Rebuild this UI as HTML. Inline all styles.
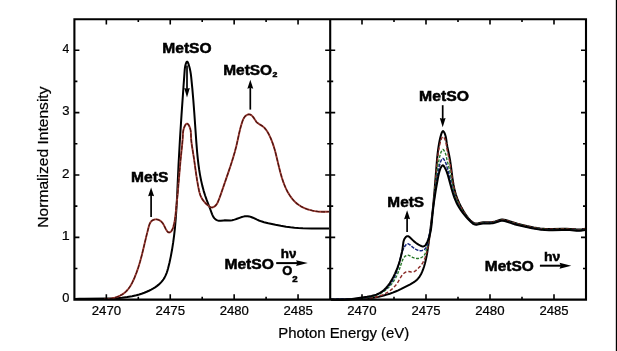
<!DOCTYPE html>
<html><head><meta charset="utf-8"><style>
html,body{margin:0;padding:0;background:#fff;}
svg{display:block;will-change:transform;}
text{font-family:"Liberation Sans",sans-serif;fill:#000;}
</style></head><body>
<svg width="617" height="351" viewBox="0 0 617 351">
<rect width="617" height="351" fill="#fff"/>
<rect x="615.8" y="0" width="1.2" height="351" fill="#000"/>
<path d="M75.00,299.07 L79.39,298.82 L84.30,298.66 L106.61,298.53 L112.05,298.39 L116.49,298.17 L121.89,297.74 L127.25,297.08 L132.07,296.24 L136.36,295.25 L139.20,294.47 L141.54,293.72 L144.33,292.72 L146.64,291.78 L148.93,290.75 L151.18,289.62 L153.38,288.39 L155.09,287.32 L157.13,285.88 L158.67,284.64 L160.13,283.33 L161.47,281.93 L162.70,280.44 L163.53,279.27 L164.53,277.63 L165.41,275.91 L166.71,272.76 L167.34,270.90 L168.04,268.51 L169.47,262.69 L170.82,256.37 L172.07,249.54 L173.15,242.71 L174.12,235.37 L174.93,228.03 L175.83,217.73 L176.60,205.93 L177.13,195.60 L178.52,165.00 L179.98,138.80 L181.50,115.13 L183.45,87.20 L184.69,70.19 L184.94,67.70 L185.33,65.54 L185.82,63.76 L186.44,62.24 L186.67,61.91 L186.90,61.70 L187.13,61.63 L187.36,61.73 L187.59,61.97 L188.04,62.79 L188.66,64.47 L189.33,66.71 L189.85,68.72 L190.34,71.08 L190.80,73.94 L191.17,76.83 L192.29,88.04 L193.37,100.76 L194.37,114.01 L196.33,142.15 L197.17,152.54 L197.75,158.45 L198.44,164.35 L199.18,169.73 L199.97,174.59 L201.09,180.37 L202.28,185.63 L203.67,190.84 L205.12,195.53 L206.75,200.16 L210.18,208.99 L212.14,214.30 L213.19,216.57 L213.69,217.40 L214.25,218.17 L215.24,219.17 L216.43,219.96 L217.33,220.36 L218.79,220.73 L219.78,220.81 L220.77,220.78 L223.72,220.41 L224.72,220.35 L230.24,220.40 L232.17,220.19 L234.50,219.63 L236.33,219.03 L240.96,217.33 L243.38,216.62 L244.85,216.32 L245.83,216.20 L246.80,216.15 L247.77,216.18 L249.20,216.41 L251.08,216.96 L252.93,217.72 L257.07,219.69 L258.92,220.48 L261.24,221.32 L264.05,222.18 L268.31,223.24 L275.48,224.81 L280.79,225.84 L286.14,226.74 L290.54,227.34 L294.47,227.76 L298.40,228.06 L302.83,228.28 L311.72,228.45 L329.00,228.42" fill="none" stroke="#000" stroke-width="2" stroke-linejoin="round"/>
<path d="M104.04,298.89 L106.33,298.93 L108.19,298.84 L110.55,298.58 L112.44,298.25 L114.77,297.68 L116.61,297.10 L118.40,296.41 L120.14,295.61 L121.80,294.70 L123.38,293.67 L124.87,292.52 L125.91,291.59 L127.20,290.25 L128.40,288.81 L129.51,287.29 L130.54,285.70 L132.39,282.35 L134.40,277.98 L136.50,272.67 L138.34,267.33 L139.98,261.95 L141.68,255.63 L143.14,249.70 L146.66,234.85 L148.86,226.31 L149.46,224.45 L150.01,223.15 L150.71,221.98 L151.27,221.29 L152.30,220.43 L153.11,219.98 L154.47,219.54 L155.44,219.40 L156.41,219.39 L157.86,219.65 L158.78,219.97 L160.07,220.64 L160.83,221.18 L161.51,221.78 L162.67,223.13 L163.85,225.08 L165.86,229.12 L166.66,230.54 L167.58,231.74 L168.27,232.27 L168.64,232.42 L169.02,232.47 L169.43,232.44 L169.83,232.31 L170.62,231.86 L170.98,231.55 L171.60,230.82 L172.34,229.50 L172.91,228.05 L173.38,226.58 L174.24,223.27 L174.91,219.60 L175.42,215.53 L176.79,202.49 L177.77,192.47 L180.46,160.93 L182.34,142.86 L182.64,139.15 L182.93,133.75 L183.09,131.92 L183.55,129.48 L184.03,127.90 L184.44,126.81 L184.93,125.75 L185.47,124.83 L186.05,124.11 L186.66,123.70 L186.96,123.64 L187.27,123.68 L187.58,123.82 L188.18,124.35 L188.75,125.16 L189.28,126.14 L189.94,127.78 L190.27,128.85 L190.62,130.38 L190.90,132.77 L191.03,136.84 L191.21,139.57 L191.49,142.33 L191.92,145.59 L194.02,158.80 L196.19,174.35 L197.11,180.42 L198.35,187.35 L199.02,190.55 L199.58,192.81 L200.28,195.03 L200.98,196.74 L201.85,198.40 L203.15,200.38 L204.66,202.25 L206.36,204.01 L208.24,205.65 L209.84,206.81 L210.69,207.22 L211.12,207.36 L211.99,207.46 L212.89,207.30 L213.34,207.14 L214.21,206.68 L215.39,205.75 L216.36,204.65 L217.38,203.02 L218.20,201.27 L219.43,198.14 L220.71,194.59 L228.34,172.35 L230.91,164.69 L233.06,157.89 L234.78,151.97 L236.22,146.49 L237.18,142.37 L239.28,132.73 L240.28,128.58 L241.29,124.90 L242.47,121.21 L243.18,119.40 L243.83,118.12 L244.63,116.93 L245.26,116.21 L246.39,115.26 L247.24,114.77 L248.13,114.44 L249.03,114.33 L249.92,114.47 L250.76,114.84 L251.57,115.40 L252.31,116.08 L253.00,116.85 L253.62,117.67 L256.02,121.34 L256.61,122.06 L257.27,122.71 L258.77,123.82 L262.04,125.82 L263.17,126.67 L264.21,127.62 L265.47,129.01 L266.60,130.51 L267.86,132.51 L268.99,134.60 L270.42,137.58 L271.69,140.61 L272.98,144.11 L274.12,147.66 L275.03,150.80 L275.98,154.42 L279.16,167.73 L280.45,172.80 L281.91,177.87 L283.46,182.45 L284.50,185.16 L285.44,187.39 L286.46,189.57 L287.55,191.71 L288.73,193.77 L289.99,195.76 L291.34,197.67 L292.50,199.13 L294.03,200.86 L295.67,202.47 L297.42,203.97 L298.90,205.06 L300.86,206.31 L302.93,207.41 L305.09,208.38 L307.32,209.22 L309.62,209.93 L312.44,210.63 L314.83,211.08 L317.71,211.47 L320.59,211.72 L323.45,211.82 L326.26,211.79 L328.99,211.63" fill="none" stroke="#9a3b33" stroke-width="1.9" stroke-linejoin="round"/>
<path d="M104.04,298.89 L106.33,298.93 L108.19,298.84 L110.55,298.58 L112.44,298.25 L114.77,297.68 L116.61,297.10 L118.40,296.41 L120.14,295.61 L121.80,294.70 L123.38,293.67 L124.87,292.52 L125.91,291.59 L127.20,290.25 L128.40,288.81 L129.51,287.29 L130.54,285.70 L132.39,282.35 L134.40,277.98 L136.50,272.67 L138.34,267.33 L139.98,261.95 L141.68,255.63 L143.14,249.70 L146.66,234.85 L148.86,226.31 L149.46,224.45 L150.01,223.15 L150.71,221.98 L151.27,221.29 L152.30,220.43 L153.11,219.98 L154.47,219.54 L155.44,219.40 L156.41,219.39 L157.86,219.65 L158.78,219.97 L160.07,220.64 L160.83,221.18 L161.51,221.78 L162.67,223.13 L163.85,225.08 L165.86,229.12 L166.66,230.54 L167.58,231.74 L168.27,232.27 L168.64,232.42 L169.02,232.47 L169.43,232.44 L169.83,232.31 L170.62,231.86 L170.98,231.55 L171.60,230.82 L172.34,229.50 L172.91,228.05 L173.38,226.58 L174.24,223.27 L174.91,219.60 L175.42,215.53 L176.79,202.49 L177.77,192.47 L180.46,160.93 L182.34,142.86 L182.64,139.15 L182.93,133.75 L183.09,131.92 L183.55,129.48 L184.03,127.90 L184.44,126.81 L184.93,125.75 L185.47,124.83 L186.05,124.11 L186.66,123.70 L186.96,123.64 L187.27,123.68 L187.58,123.82 L188.18,124.35 L188.75,125.16 L189.28,126.14 L189.94,127.78 L190.27,128.85 L190.62,130.38 L190.90,132.77 L191.03,136.84 L191.21,139.57 L191.49,142.33 L191.92,145.59 L194.02,158.80 L196.19,174.35 L197.11,180.42 L198.35,187.35 L199.02,190.55 L199.58,192.81 L200.28,195.03 L200.98,196.74 L201.85,198.40 L203.15,200.38 L204.66,202.25 L206.36,204.01 L208.24,205.65 L209.84,206.81 L210.69,207.22 L211.12,207.36 L211.99,207.46 L212.89,207.30 L213.34,207.14 L214.21,206.68 L215.39,205.75 L216.36,204.65 L217.38,203.02 L218.20,201.27 L219.43,198.14 L220.71,194.59 L228.34,172.35 L230.91,164.69 L233.06,157.89 L234.78,151.97 L236.22,146.49 L237.18,142.37 L239.28,132.73 L240.28,128.58 L241.29,124.90 L242.47,121.21 L243.18,119.40 L243.83,118.12 L244.63,116.93 L245.26,116.21 L246.39,115.26 L247.24,114.77 L248.13,114.44 L249.03,114.33 L249.92,114.47 L250.76,114.84 L251.57,115.40 L252.31,116.08 L253.00,116.85 L253.62,117.67 L256.02,121.34 L256.61,122.06 L257.27,122.71 L258.77,123.82 L262.04,125.82 L263.17,126.67 L264.21,127.62 L265.47,129.01 L266.60,130.51 L267.86,132.51 L268.99,134.60 L270.42,137.58 L271.69,140.61 L272.98,144.11 L274.12,147.66 L275.03,150.80 L275.98,154.42 L279.16,167.73 L280.45,172.80 L281.91,177.87 L283.46,182.45 L284.50,185.16 L285.44,187.39 L286.46,189.57 L287.55,191.71 L288.73,193.77 L289.99,195.76 L291.34,197.67 L292.50,199.13 L294.03,200.86 L295.67,202.47 L297.42,203.97 L298.90,205.06 L300.86,206.31 L302.93,207.41 L305.09,208.38 L307.32,209.22 L309.62,209.93 L312.44,210.63 L314.83,211.08 L317.71,211.47 L320.59,211.72 L323.45,211.82 L326.26,211.79 L328.99,211.63" fill="none" stroke="#4a130f" stroke-width="1.15" stroke-dasharray="4 1.5" stroke-linejoin="round"/>
<path d="M331.00,299.44 L341.00,299.57 L348.50,299.54 L355.25,299.36 L361.50,299.00 L367.50,298.45 L373.25,297.67 L378.75,296.67 L383.75,295.50 L386.75,294.66 L389.75,293.71 L392.75,292.64 L395.50,291.54 L398.25,290.33 L401.25,288.90 L410.25,284.31 L413.50,282.43 L414.75,281.58 L416.00,280.61 L417.00,279.71 L418.00,278.65 L419.00,277.41 L419.75,276.34 L421.00,274.23 L422.00,272.17 L423.00,269.70 L424.00,266.72 L425.00,263.17 L426.00,258.98 L426.75,255.29 L427.50,250.97 L428.50,244.13 L430.50,228.74 L432.00,216.39 L433.00,207.25 L434.50,191.12 L437.00,159.64 L437.50,154.62 L438.00,150.45 L438.50,146.92 L439.25,142.50 L440.00,138.80 L440.50,136.66 L441.25,134.13 L442.00,132.22 L442.50,131.41 L442.75,131.18 L443.00,131.09 L443.25,131.15 L443.75,131.62 L444.50,132.98 L445.25,134.95 L445.75,136.70 L446.00,137.85 L446.25,139.31 L446.75,143.17 L447.25,146.23 L449.25,155.71 L450.25,161.27 L451.00,166.54 L452.50,178.36 L453.50,184.72 L454.00,187.30 L454.75,190.60 L456.00,195.02 L457.50,199.17 L459.25,203.16 L461.50,207.60 L464.25,212.42 L466.25,215.48 L468.25,218.06 L469.25,219.17 L470.50,220.43 L471.50,221.32 L472.50,222.09 L473.75,222.84 L474.75,223.22 L475.75,223.40 L477.00,223.40 L478.25,223.23 L481.75,222.45 L483.25,222.23 L484.75,222.18 L489.00,222.35 L490.50,222.27 L492.00,222.08 L493.50,221.81 L495.25,221.40 L500.50,219.79 L501.75,219.58 L502.75,219.57 L504.00,219.72 L505.50,220.06 L517.50,223.60 L522.25,224.88 L526.75,226.01 L530.25,226.79 L533.75,227.49 L537.00,228.03 L540.25,228.45 L544.50,228.82 L548.75,228.96 L552.75,228.95 L562.25,228.75 L566.75,228.78 L570.00,228.92 L576.00,229.37 L578.50,229.46 L580.25,229.43 L582.00,229.31 L583.50,229.11 L585.00,228.80" fill="none" stroke="#000" stroke-width="2" stroke-linejoin="round"/>
<path d="M331.00,299.52 L334.75,299.30 L339.00,299.19 L352.75,299.22 L357.25,299.18 L361.25,299.04 L365.00,298.80 L369.75,298.26 L374.00,297.50 L376.00,297.03 L378.00,296.48 L381.50,295.28 L383.25,294.55 L385.00,293.72 L386.50,292.92 L388.00,292.03 L389.50,291.03 L391.00,289.90 L392.25,288.86 L393.50,287.70 L395.50,285.55 L397.25,283.25 L398.25,281.65 L400.50,277.58 L401.75,275.69 L403.00,274.19 L403.75,273.44 L404.50,272.82 L405.25,272.31 L406.00,271.92 L406.75,271.64 L407.50,271.48 L408.00,271.45 L408.75,271.49 L411.25,272.04 L412.25,272.16 L413.25,272.04 L414.25,271.64 L415.00,271.18 L415.75,270.62 L418.25,268.34 L420.25,266.22 L421.75,264.30 L423.00,262.31 L424.00,260.35 L425.00,257.94 L425.75,255.73 L426.50,253.08 L427.25,249.95 L428.00,246.35 L428.75,242.19 L429.50,237.32 L430.25,231.61 L432.00,216.74 L433.00,207.63 L434.50,192.26 L436.75,165.98 L437.25,160.91 L438.00,154.75 L438.50,151.39 L439.25,147.18 L440.00,143.67 L440.50,141.66 L441.00,140.00 L441.75,138.04 L442.25,137.09 L442.50,136.77 L442.75,136.57 L443.00,136.50 L443.25,136.57 L443.50,136.76 L443.75,137.05 L444.25,137.87 L444.75,138.94 L445.25,140.24 L445.75,141.88 L446.00,142.93 L447.25,150.51 L449.25,159.56 L450.25,164.85 L451.00,169.73 L452.50,180.52 L453.50,186.38 L454.00,188.78 L454.75,191.88 L455.50,194.51 L456.25,196.79 L457.75,200.63 L459.50,204.39 L461.75,208.61 L464.50,213.18 L466.50,216.07 L467.50,217.36 L468.75,218.81 L471.00,221.06 L472.00,221.91 L473.00,222.62 L473.75,223.04 L474.50,223.35 L475.25,223.54 L476.25,223.62 L478.00,223.46 L481.75,222.65 L483.25,222.43 L485.00,222.38 L488.75,222.53 L490.75,222.43 L492.50,222.21 L494.50,221.79 L500.50,219.98 L501.75,219.78 L502.75,219.76 L504.00,219.91 L505.50,220.25 L515.50,223.26 L521.50,224.87 L526.75,226.18 L530.50,227.02 L534.00,227.71 L537.25,228.24 L540.50,228.67 L544.50,229.01 L548.75,229.15 L552.75,229.14 L562.25,228.93 L566.75,228.96 L570.00,229.11 L576.00,229.57 L578.50,229.66 L580.25,229.64 L582.00,229.51 L583.50,229.30 L585.00,228.99" fill="none" stroke="#8a2a26" stroke-width="1.4" stroke-dasharray="3.5 2" />
<path d="M331.00,299.53 L337.00,299.29 L348.75,299.15 L353.50,299.04 L358.50,298.77 L362.75,298.37 L367.50,297.66 L369.75,297.21 L372.00,296.66 L374.00,296.08 L376.00,295.40 L377.75,294.71 L379.50,293.92 L381.50,292.88 L383.50,291.66 L385.25,290.43 L387.00,289.00 L388.75,287.34 L390.25,285.71 L391.75,283.88 L393.25,281.80 L394.50,279.87 L395.75,277.69 L396.75,275.74 L397.75,273.54 L399.25,269.70 L402.00,261.57 L402.75,259.63 L403.25,258.63 L403.75,257.82 L404.25,257.17 L405.00,256.38 L405.75,255.79 L406.75,255.29 L407.50,255.13 L408.25,255.17 L408.75,255.30 L409.50,255.60 L412.50,257.30 L414.00,257.93 L415.00,258.21 L416.00,258.39 L417.00,258.47 L418.00,258.45 L419.00,258.33 L419.75,258.16 L420.75,257.83 L421.50,257.48 L422.25,257.03 L423.00,256.45 L423.75,255.70 L424.25,255.07 L425.00,253.79 L425.50,252.62 L426.00,251.12 L426.75,248.29 L427.50,244.89 L428.50,239.81 L430.00,232.70 L431.00,227.19 L431.50,223.36 L432.75,210.82 L436.75,174.33 L437.50,168.42 L438.25,163.52 L439.25,158.40 L440.00,155.36 L440.50,153.64 L441.00,152.25 L441.75,150.66 L442.25,149.90 L442.50,149.64 L442.75,149.49 L443.00,149.47 L443.25,149.57 L443.50,149.78 L444.25,150.87 L445.25,152.94 L446.00,155.12 L447.00,159.72 L449.00,167.77 L450.00,172.19 L450.75,176.01 L452.50,185.72 L453.50,190.36 L454.25,193.24 L455.00,195.73 L455.75,197.91 L456.50,199.84 L458.00,203.19 L460.00,206.99 L462.25,210.71 L464.75,214.39 L467.00,217.28 L469.25,219.78 L471.75,222.15 L472.75,222.93 L473.50,223.39 L474.25,223.74 L475.00,223.97 L475.75,224.07 L476.50,224.07 L477.75,223.93 L481.50,223.15 L483.25,222.91 L485.00,222.86 L489.00,222.96 L491.50,222.82 L493.00,222.60 L494.50,222.26 L500.25,220.49 L501.50,220.27 L502.75,220.23 L504.00,220.37 L505.50,220.69 L507.50,221.29 L512.25,222.88 L514.25,223.47 L526.50,226.54 L530.50,227.43 L534.25,228.17 L537.50,228.71 L540.75,229.14 L544.75,229.48 L548.75,229.61 L552.75,229.59 L562.25,229.38 L566.75,229.41 L570.00,229.56 L576.00,230.05 L578.75,230.16 L580.50,230.12 L582.00,229.99 L583.50,229.78 L585.00,229.44" fill="none" stroke="#2a7a2a" stroke-width="1.4" stroke-dasharray="3 1.5" />
<path d="M331.00,299.42 L334.00,299.23 L337.50,299.10 L349.25,298.92 L354.00,298.78 L358.75,298.49 L363.00,298.04 L365.50,297.66 L367.75,297.24 L370.00,296.72 L372.25,296.10 L374.50,295.36 L376.50,294.59 L378.50,293.70 L380.25,292.81 L382.25,291.63 L384.25,290.25 L386.00,288.84 L387.75,287.17 L389.25,285.47 L390.75,283.50 L392.00,281.59 L393.25,279.41 L394.50,276.90 L395.50,274.60 L396.50,272.01 L397.50,269.08 L398.50,265.75 L399.25,262.97 L401.25,254.73 L402.25,251.46 L403.00,249.60 L404.00,247.61 L405.00,245.99 L406.00,244.70 L406.75,244.08 L407.25,243.86 L408.00,243.82 L408.75,244.07 L410.00,244.89 L413.00,247.47 L414.00,248.23 L415.00,248.89 L416.00,249.45 L417.25,250.00 L418.25,250.34 L419.25,250.58 L420.25,250.70 L421.00,250.70 L422.00,250.56 L422.75,250.34 L423.50,250.00 L424.25,249.54 L425.00,248.92 L425.50,248.39 L426.00,247.71 L426.50,246.80 L427.00,245.51 L427.25,244.63 L428.50,238.08 L430.75,228.88 L431.25,226.20 L431.75,222.14 L432.75,211.40 L434.00,200.83 L436.75,180.12 L437.50,175.18 L438.25,170.82 L439.25,166.19 L440.00,163.47 L440.50,161.95 L441.00,160.75 L441.75,159.41 L442.25,158.78 L442.75,158.46 L443.00,158.46 L443.25,158.59 L443.50,158.82 L444.25,159.88 L445.00,161.24 L445.50,162.31 L446.25,164.34 L448.25,171.45 L449.25,175.23 L450.25,179.36 L452.25,188.27 L453.50,193.12 L454.25,195.58 L455.00,197.76 L456.00,200.32 L457.00,202.56 L458.75,205.96 L460.50,208.91 L462.50,211.92 L464.75,214.96 L467.25,217.94 L469.75,220.57 L472.00,222.67 L473.00,223.42 L473.75,223.86 L474.50,224.17 L475.00,224.30 L475.75,224.39 L476.50,224.39 L478.00,224.19 L481.50,223.47 L483.25,223.25 L485.00,223.19 L489.50,223.26 L491.75,223.12 L493.25,222.89 L494.50,222.59 L498.75,221.21 L500.25,220.81 L501.75,220.58 L503.00,220.57 L504.50,220.77 L506.25,221.20 L512.00,223.19 L514.50,223.93 L525.75,226.65 L530.25,227.66 L534.25,228.46 L537.75,229.05 L541.00,229.48 L544.75,229.80 L549.00,229.94 L553.00,229.91 L562.00,229.69 L566.50,229.71 L569.75,229.86 L576.25,230.41 L578.75,230.50 L580.50,230.46 L582.00,230.33 L583.50,230.10 L585.00,229.76" fill="none" stroke="#1a2a80" stroke-width="1.5" stroke-dasharray="3.5 1.2" />
<path d="M331.00,299.40 L333.50,299.64 L336.00,299.79 L338.50,299.86 L341.00,299.84 L343.50,299.74 L346.25,299.54 L352.00,298.89 L367.00,296.75 L371.50,295.95 L374.00,295.33 L376.25,294.62 L378.25,293.80 L380.00,292.90 L382.25,291.42 L384.25,289.77 L386.25,287.76 L388.00,285.66 L389.75,283.21 L391.50,280.39 L393.25,277.18 L395.00,273.60 L396.25,270.77 L397.50,267.65 L398.75,264.16 L399.75,261.00 L401.00,256.36 L402.00,251.71 L402.50,248.81 L403.25,243.04 L403.50,241.62 L403.75,240.66 L404.25,239.34 L405.00,238.01 L405.75,237.07 L406.50,236.44 L407.25,236.13 L408.00,236.16 L408.75,236.50 L409.75,237.27 L413.75,241.11 L415.75,242.76 L417.00,243.65 L418.50,244.60 L420.00,245.43 L421.25,246.00 L422.00,246.26 L422.75,246.41 L423.25,246.43 L423.75,246.36 L424.25,246.17 L424.75,245.86 L425.50,245.11 L426.00,244.40 L426.75,243.06 L427.50,241.47 L428.25,239.68 L429.25,236.84 L430.25,233.11 L430.75,230.63 L431.25,227.35 L431.75,222.68 L432.75,211.83 L434.00,201.82 L435.75,190.38 L437.75,178.96 L438.50,175.18 L439.00,173.06 L439.50,171.23 L440.25,168.92 L440.75,167.71 L441.50,166.41 L442.25,165.54 L442.75,165.28 L443.00,165.31 L443.50,165.69 L444.50,167.14 L445.75,169.46 L446.75,171.87 L447.50,174.08 L448.50,177.41 L451.75,189.47 L453.25,194.46 L454.25,197.36 L455.25,199.92 L456.25,202.19 L457.50,204.69 L459.25,207.76 L461.00,210.45 L463.00,213.20 L465.00,215.69 L467.75,218.76 L470.75,221.76 L472.50,223.31 L473.25,223.83 L474.00,224.23 L475.00,224.55 L476.25,224.64 L477.50,224.51 L481.00,223.79 L483.00,223.52 L485.00,223.44 L489.75,223.48 L492.00,223.35 L493.25,223.15 L494.50,222.85 L498.50,221.52 L500.00,221.10 L501.50,220.85 L503.00,220.82 L504.50,221.01 L506.25,221.44 L508.00,222.01 L512.50,223.65 L514.25,224.16 L516.25,224.66 L527.50,227.27 L532.00,228.25 L536.75,229.12 L541.25,229.75 L545.00,230.06 L549.00,230.18 L552.75,230.15 L562.00,229.92 L566.50,229.95 L569.75,230.10 L576.25,230.66 L578.75,230.76 L580.50,230.72 L582.00,230.59 L583.50,230.35 L585.00,230.00" fill="none" stroke="#000" stroke-width="2" stroke-linejoin="round"/>
<path d="M74.40,19.20 H586.00 V299.60 H74.40 Z M330.20,19.20 V299.60" fill="none" stroke="#000" stroke-width="2.1"/>
<path d="M106.35,299.60 V294.30 M106.35,19.20 V24.50 M138.30,299.60 V296.80 M138.30,19.20 V22.00 M170.25,299.60 V294.30 M170.25,19.20 V24.50 M202.20,299.60 V296.80 M202.20,19.20 V22.00 M234.15,299.60 V294.30 M234.15,19.20 V24.50 M266.10,299.60 V296.80 M266.10,19.20 V22.00 M298.05,299.60 V294.30 M298.05,19.20 V24.50 M362.00,299.60 V294.30 M362.00,19.20 V24.50 M394.00,299.60 V296.80 M394.00,19.20 V22.00 M426.00,299.60 V294.30 M426.00,19.20 V24.50 M458.00,299.60 V296.80 M458.00,19.20 V22.00 M490.00,299.60 V294.30 M490.00,19.20 V24.50 M522.00,299.60 V296.80 M522.00,19.20 V22.00 M554.00,299.60 V294.30 M554.00,19.20 V24.50 M74.40,268.51 H77.40 M330.20,268.51 H327.20 M330.20,268.51 H333.20 M586.00,268.51 H583.00 M74.40,237.33 H79.40 M330.20,237.33 H325.20 M330.20,237.33 H335.20 M586.00,237.33 H581.00 M74.40,206.14 H77.40 M330.20,206.14 H327.20 M330.20,206.14 H333.20 M586.00,206.14 H583.00 M74.40,174.96 H79.40 M330.20,174.96 H325.20 M330.20,174.96 H335.20 M586.00,174.96 H581.00 M74.40,143.78 H77.40 M330.20,143.78 H327.20 M330.20,143.78 H333.20 M586.00,143.78 H583.00 M74.40,112.59 H79.40 M330.20,112.59 H325.20 M330.20,112.59 H335.20 M586.00,112.59 H581.00 M74.40,81.41 H77.40 M330.20,81.41 H327.20 M330.20,81.41 H333.20 M586.00,81.41 H583.00 M74.40,50.22 H79.40 M330.20,50.22 H325.20 M330.20,50.22 H335.20 M586.00,50.22 H581.00" fill="none" stroke="#000" stroke-width="1.6"/>
<path d="M187.00,65.50 V89.20" stroke="#000" stroke-width="1.70"/><path d="M184.20,87.90 L187.00,97.60 L189.80,87.90 L187.00,88.80 Z" fill="#000"/>
<path d="M250.30,109.60 V87.40" stroke="#000" stroke-width="1.70"/><path d="M247.35,88.70 L250.30,79.80 L253.25,88.70 L250.30,87.80 Z" fill="#000"/>
<path d="M151.10,216.90 V195.00" stroke="#000" stroke-width="1.70"/><path d="M148.10,196.30 L151.10,187.40 L154.10,196.30 L151.10,195.40 Z" fill="#000"/>
<path d="M442.70,105.20 V119.20" stroke="#000" stroke-width="1.70"/><path d="M439.80,117.90 L442.70,127.20 L445.60,117.90 L442.70,118.80 Z" fill="#000"/>
<path d="M407.10,232.00 V218.00" stroke="#000" stroke-width="1.70"/><path d="M404.10,219.30 L407.10,210.20 L410.10,219.30 L407.10,218.40 Z" fill="#000"/>
<path d="M276.2,263.1 H299" stroke="#000" stroke-width="2"/><path d="M296.1,260.3 L307.8,263.1 L296.1,265.9 L297.3,263.1 Z" fill="#000"/>
<path d="M539.9,265.7 H562" stroke="#000" stroke-width="2"/><path d="M559.5,262.7 L571.3,265.7 L559.5,268.7 L560.8,265.7 Z" fill="#000"/>
<text x="65.83" y="302.12" font-size="12.85" font-weight="normal" text-anchor="middle" textLength="7.15" lengthAdjust="spacingAndGlyphs" stroke="#000" stroke-width="0.22">0</text>
<text x="65.70" y="240.04" font-size="13.32" font-weight="normal" text-anchor="middle" textLength="7.98" lengthAdjust="spacingAndGlyphs" stroke="#000" stroke-width="0.22">1</text>
<text x="65.83" y="177.82" font-size="13.33" font-weight="normal" text-anchor="middle" textLength="7.47" lengthAdjust="spacingAndGlyphs" stroke="#000" stroke-width="0.22">2</text>
<text x="65.95" y="115.12" font-size="12.85" font-weight="normal" text-anchor="middle" textLength="7.28" lengthAdjust="spacingAndGlyphs" stroke="#000" stroke-width="0.22">3</text>
<text x="65.95" y="53.04" font-size="13.32" font-weight="normal" text-anchor="middle" textLength="6.74" lengthAdjust="spacingAndGlyphs" stroke="#000" stroke-width="0.22">4</text>
<text x="106.43" y="314.52" font-size="12.64" font-weight="normal" text-anchor="middle" textLength="29.40" lengthAdjust="spacingAndGlyphs" stroke="#000" stroke-width="0.22">2470</text>
<text x="361.88" y="314.52" font-size="12.64" font-weight="normal" text-anchor="middle" textLength="29.39" lengthAdjust="spacingAndGlyphs" stroke="#000" stroke-width="0.22">2470</text>
<text x="170.27" y="314.52" font-size="12.64" font-weight="normal" text-anchor="middle" textLength="29.47" lengthAdjust="spacingAndGlyphs" stroke="#000" stroke-width="0.22">2475</text>
<text x="426.00" y="314.52" font-size="12.64" font-weight="normal" text-anchor="middle" textLength="29.20" lengthAdjust="spacingAndGlyphs" stroke="#000" stroke-width="0.22">2475</text>
<text x="234.25" y="314.52" font-size="12.64" font-weight="normal" text-anchor="middle" textLength="29.20" lengthAdjust="spacingAndGlyphs" stroke="#000" stroke-width="0.22">2480</text>
<text x="489.88" y="314.52" font-size="12.64" font-weight="normal" text-anchor="middle" textLength="29.39" lengthAdjust="spacingAndGlyphs" stroke="#000" stroke-width="0.22">2480</text>
<text x="298.22" y="314.52" font-size="12.64" font-weight="normal" text-anchor="middle" textLength="29.39" lengthAdjust="spacingAndGlyphs" stroke="#000" stroke-width="0.22">2485</text>
<text x="554.00" y="314.52" font-size="12.64" font-weight="normal" text-anchor="middle" textLength="29.20" lengthAdjust="spacingAndGlyphs" stroke="#000" stroke-width="0.22">2485</text>
<text x="343.72" y="338.44" font-size="14.98" font-weight="normal" text-anchor="middle" textLength="131.06" lengthAdjust="spacingAndGlyphs" stroke="#000" stroke-width="0.22">Photon Energy (eV)</text>
<text transform="translate(48.00,157.10) rotate(-90)" x="0" y="0" font-size="14.50" font-weight="normal" text-anchor="middle" textLength="141.12" lengthAdjust="spacingAndGlyphs" stroke="#000" stroke-width="0.22">Normalized Intensity</text>
<text x="186.92" y="53.38" font-size="14.25" font-weight="bold" text-anchor="middle" textLength="49.27" lengthAdjust="spacingAndGlyphs" stroke="#000" stroke-width="0.50">MetSO</text>
<text x="247.65" y="75.38" font-size="14.45" font-weight="bold" text-anchor="middle" textLength="48.86" lengthAdjust="spacingAndGlyphs" stroke="#000" stroke-width="0.50">MetSO</text>
<text x="274.83" y="77.38" font-size="7.45" font-weight="bold" text-anchor="middle" textLength="4.85" lengthAdjust="spacingAndGlyphs" stroke="#000" stroke-width="0.50">2</text>
<text x="149.70" y="181.66" font-size="13.93" font-weight="bold" text-anchor="middle" textLength="37.12" lengthAdjust="spacingAndGlyphs" stroke="#000" stroke-width="0.50">MetS</text>
<text x="249.17" y="268.52" font-size="14.25" font-weight="bold" text-anchor="middle" textLength="49.55" lengthAdjust="spacingAndGlyphs" stroke="#000" stroke-width="0.50">MetSO</text>
<text x="288.55" y="258.30" font-size="12.71" font-weight="bold" text-anchor="middle" textLength="15.73" lengthAdjust="spacingAndGlyphs" stroke="#000" stroke-width="0.50">h&#957;</text>
<text x="287.33" y="275.38" font-size="12.05" font-weight="bold" text-anchor="middle" textLength="10.06" lengthAdjust="spacingAndGlyphs" stroke="#000" stroke-width="0.50">O</text>
<text x="294.97" y="281.88" font-size="9.17" font-weight="bold" text-anchor="middle" textLength="5.38" lengthAdjust="spacingAndGlyphs" stroke="#000" stroke-width="0.50">2</text>
<text x="443.97" y="101.02" font-size="14.09" font-weight="bold" text-anchor="middle" textLength="49.92" lengthAdjust="spacingAndGlyphs" stroke="#000" stroke-width="0.50">MetSO</text>
<text x="405.70" y="206.66" font-size="14.09" font-weight="bold" text-anchor="middle" textLength="36.74" lengthAdjust="spacingAndGlyphs" stroke="#000" stroke-width="0.50">MetS</text>
<text x="509.38" y="271.02" font-size="14.25" font-weight="bold" text-anchor="middle" textLength="48.98" lengthAdjust="spacingAndGlyphs" stroke="#000" stroke-width="0.50">MetSO</text>
<text x="552.15" y="260.88" font-size="13.20" font-weight="bold" text-anchor="middle" textLength="16.40" lengthAdjust="spacingAndGlyphs" stroke="#000" stroke-width="0.50">h&#957;</text>
</svg></body></html>
